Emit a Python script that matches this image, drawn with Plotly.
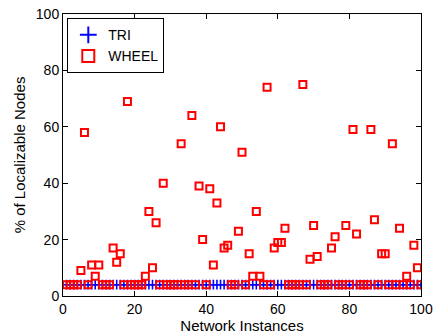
import plotly.graph_objects as go

# Data
instances = list(range(1, 101))
baseline = 4
tri_values = [baseline] * 100

wheel_elevated = {
    5: 9, 6: 58, 8: 11, 9: 7, 10: 11, 14: 17, 15: 12, 16: 15, 18: 69,
    23: 7, 24: 30, 25: 10, 26: 26, 28: 40, 33: 54, 36: 64, 38: 39, 39: 20,
    41: 38, 42: 11, 43: 33, 44: 60, 45: 17, 46: 18, 49: 23, 50: 51, 52: 15,
    53: 7, 54: 30, 55: 7, 57: 74, 59: 17, 60: 19, 61: 19, 62: 24, 67: 75,
    69: 13, 70: 25, 71: 14, 75: 17, 76: 21, 79: 25, 81: 59, 82: 22, 86: 59,
    87: 27, 89: 15, 90: 15, 92: 54, 94: 24, 96: 7, 98: 18, 99: 10,
}
wheel_values = [wheel_elevated.get(i, baseline) for i in instances]

x_ticks = [0, 20, 40, 60, 80, 100]
y_ticks = [0, 20, 40, 60, 80, 100]

FONT = "Liberation Sans, Arial, sans-serif"

fig = go.Figure()
fig.add_trace(go.Scatter(
    x=instances, y=tri_values, mode="markers", name="TRI",
    marker=dict(symbol="cross-thin", size=7, line=dict(color="#0000ff", width=1.6), color="#0000ff"),
))
fig.add_trace(go.Scatter(
    x=instances, y=wheel_values, mode="markers", name="WHEEL",
    marker=dict(symbol="square-open", size=7, color="#ff0000", line=dict(color="#ff0000", width=2)),
))

axis_common = dict(
    showgrid=False, zeroline=False, showline=True, linecolor="black", linewidth=1,
    mirror="ticks", ticks="inside", ticklen=5, tickcolor="black", automargin=False,
    tickfont=dict(family=FONT, size=14, color="black"),
)
fig.update_xaxes(range=[0, 100], tickvals=x_ticks, **axis_common,
                 title=dict(text="Network Instances", standoff=6,
                            font=dict(family=FONT, size=15, color="black")))
fig.update_yaxes(range=[0, 100], tickvals=y_ticks, **axis_common,
                 title=dict(text="% of Localizable Nodes", standoff=6,
                            font=dict(family=FONT, size=15, color="black")))

fig.update_layout(
    width=443, height=334,
    margin=dict(l=63, r=22, t=14, b=38),
    paper_bgcolor="white", plot_bgcolor="white",
    showlegend=True,
    legend=dict(x=0.012, y=0.985, xanchor="left", yanchor="top",
                bgcolor="white", bordercolor="black", borderwidth=1,
                font=dict(family=FONT, size=14, color="black"),
                itemsizing="constant", itemwidth=30, tracegroupgap=0),
)

fig.write_html("out.html", config={"displayModeBar": False},
               post_script="document.body.style.margin='0';")
